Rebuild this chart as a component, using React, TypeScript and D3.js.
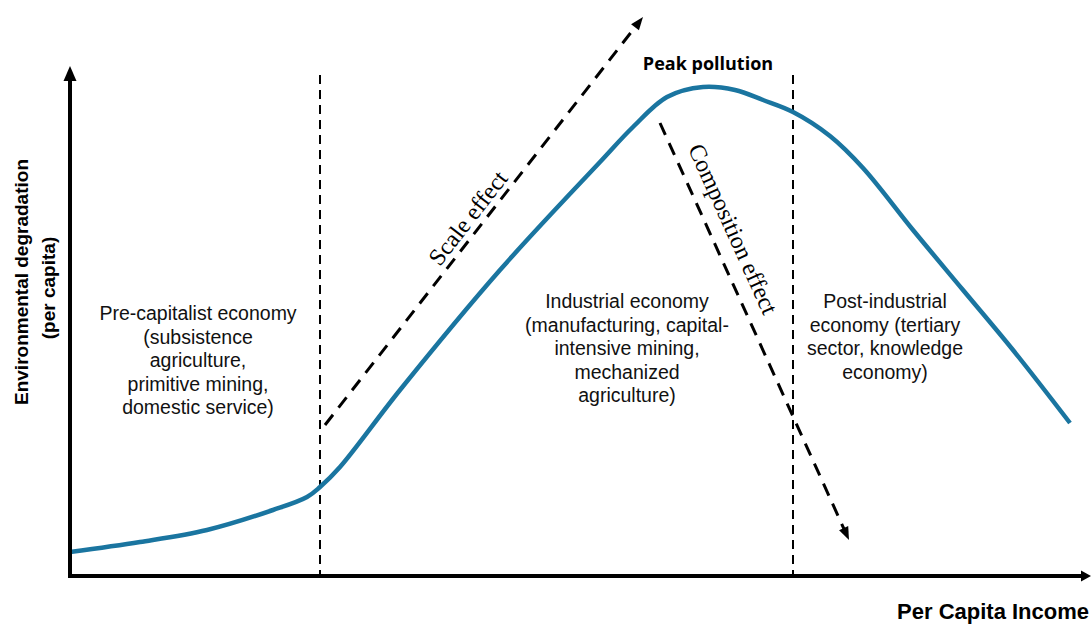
import React from 'react';
import * as d3 from 'd3';

// Environmental Kuznets curve, values in arbitrary units (0..102 on both axes)
const incomeDomain = [0, 102];
const degradationDomain = [0, 102];

const curveIncome = [0, 7, 13.7, 20.3, 23.7, 25, 27, 33, 43, 53, 56.3, 59.7, 63.3, 66.5, 69.3, 72.3, 76, 79.3, 84.3, 89.3, 94.3, 100];
const curveDegradation = [4.8, 6.8, 9.2, 13.2, 15.8, 17.8, 21.8, 37.2, 61.2, 82.8, 89.8, 95.8, 97.8, 97.2, 95.2, 92.8, 88.0, 81.6, 69.2, 57.2, 45.2, 30.6];

// income levels where the economy changes stage
const stageBoundaries = [25, 72.3];
const boundaryTop = 100.2;

// effect arrows: [income, degradation] start -> end
const scaleEffect = [[25.5, 30.2], [57.3, 111.8]];
const compositionEffect = [[59, 90.6], [77.9, 7.2]];

const stageNames = ['Pre-capitalist', 'Industrial', 'Post-industrial'];
const stageText = [
  ['Pre-capitalist economy', '(subsistence', 'agriculture,', 'primitive mining,', 'domestic service)'],
  ['Industrial economy', '(manufacturing, capital-', 'intensive mining,', 'mechanized', 'agriculture)'],
  ['Post-industrial', 'economy (tertiary', 'sector, knowledge', 'economy)'],
];

const W = 1091;
const H = 626;
const BLUE = '#1a75a0';

const arrowHead = (x1: number, y1: number, x2: number, y2: number, len: number, half: number) => {
  const a = Math.atan2(y2 - y1, x2 - x1);
  const bx = x2 - len * Math.cos(a);
  const by = y2 - len * Math.sin(a);
  const px = -Math.sin(a) * half;
  const py = Math.cos(a) * half;
  return `${x2},${y2} ${bx + px},${by + py} ${bx - px},${by - py}`;
};

const App: React.FC = () => {
  const x = d3.scaleLinear().domain(incomeDomain).range([70, 1090]);
  const y = d3.scaleLinear().domain(degradationDomain).range([576, 66]);

  const pts = curveIncome.map((v, i) => [v, curveDegradation[i]] as [number, number]);
  const line = d3.line<[number, number]>()
    .x(d => x(d[0]))
    .y(d => y(d[1]))
    .curve(d3.curveCatmullRom.alpha(0.5));

  const effectArrow = (seg: number[][], key: string) => {
    const x1 = x(seg[0][0]), y1 = y(seg[0][1]);
    const x2 = x(seg[1][0]), y2 = y(seg[1][1]);
    const a = Math.atan2(y2 - y1, x2 - x1);
    const ex = x2 - 10 * Math.cos(a), ey = y2 - 10 * Math.sin(a);
    return (
      <g key={key}>
        <line x1={x1} y1={y1} x2={ex} y2={ey} stroke="#000" strokeWidth={3} strokeDasharray="13,9" />
        <polygon points={arrowHead(x1, y1, x2, y2, 13, 5)} fill="#000" />
      </g>
    );
  };

  const sans = '"Liberation Sans", Arial, sans-serif';
  const serif = '"Liberation Serif", "Times New Roman", serif';

  const labelPos = [
    { cx: 12.8, cy: 51.2 },
    { cx: 55.7, cy: 53.6 },
    { cx: 81.5, cy: 53.6 },
  ];

  const scaleAngle = Math.atan2(y(scaleEffect[1][1]) - y(scaleEffect[0][1]), x(scaleEffect[1][0]) - x(scaleEffect[0][0])) * 180 / Math.PI;
  const compAngle = Math.atan2(y(compositionEffect[1][1]) - y(compositionEffect[0][1]), x(compositionEffect[1][0]) - x(compositionEffect[0][0])) * 180 / Math.PI;

  return (
    <svg width={W} height={H} style={{ position: 'absolute', left: 0, top: 0, background: '#fff' }}>
      {/* stage boundaries */}
      {stageBoundaries.map((b, i) => (
        <line key={i} x1={x(b)} x2={x(b)} y1={y(boundaryTop)} y2={y(0)}
          stroke="#000" strokeWidth={2} strokeDasharray="9,6" />
      ))}

      {/* curve */}
      <path d={line(pts) || ''} fill="none" stroke={BLUE} strokeWidth={4.5} strokeLinejoin="round" />

      {/* effect arrows */}
      {effectArrow(scaleEffect, 'scale')}
      {effectArrow(compositionEffect, 'comp')}

      {/* axes */}
      <line x1={x(0)} y1={y(0)} x2={x(0)} y2={y(degradationDomain[1]) + 12} stroke="#000" strokeWidth={4} />
      <polygon points={arrowHead(x(0), y(0), x(0), y(degradationDomain[1]), 15, 6.5)} fill="#000" />
      <line x1={x(0) - 2} y1={y(0)} x2={x(incomeDomain[1]) - 8} y2={y(0)} stroke="#000" strokeWidth={4} />
      <polygon points={arrowHead(x(0), y(0), x(incomeDomain[1]) + 1, y(0), 10, 5.5)} fill="#000" />

      {/* effect labels */}
      <text transform={`translate(${x(39.8)},${y(71.6)}) rotate(${scaleAngle})`}
        textAnchor="middle" dominantBaseline="central" fontFamily={serif} fontSize={24}>Scale effect</text>
      <text transform={`translate(${x(66.3)},${y(69.4)}) rotate(${compAngle})`}
        textAnchor="middle" dominantBaseline="central" fontFamily={serif} fontSize={24}>Composition effect</text>

      <text x={x(63.8)} y={y(101.2)} textAnchor="middle" fontFamily={'"Open Sans", sans-serif'}
        fontWeight={700} fontSize={18}>Peak pollution</text>

      {/* stage labels */}
      {stageText.map((lines, i) => (
        <text key={stageNames[i]} x={x(labelPos[i].cx)} y={y(labelPos[i].cy)} textAnchor="middle"
          fontFamily={sans} fontSize={19.5} fill="#111">
          {lines.map((l, j) => (
            <tspan key={j} x={x(labelPos[i].cx)} dy={j === 0 ? 0 : 23.6}>{l}</tspan>
          ))}
        </text>
      ))}

      {/* axis titles */}
      <text transform="translate(28,282) rotate(-90)" textAnchor="middle" fontFamily={sans}
        fontWeight={700} fontSize={19}>Environmental degradation</text>
      <text transform="translate(55,288) rotate(-90)" textAnchor="middle" fontFamily={sans}
        fontWeight={700} fontSize={19}>(per capita)</text>
      <text x={1089} y={619} textAnchor="end" fontFamily={sans} fontWeight={700} fontSize={22}>Per Capita Income</text>
    </svg>
  );
};

export default App;
